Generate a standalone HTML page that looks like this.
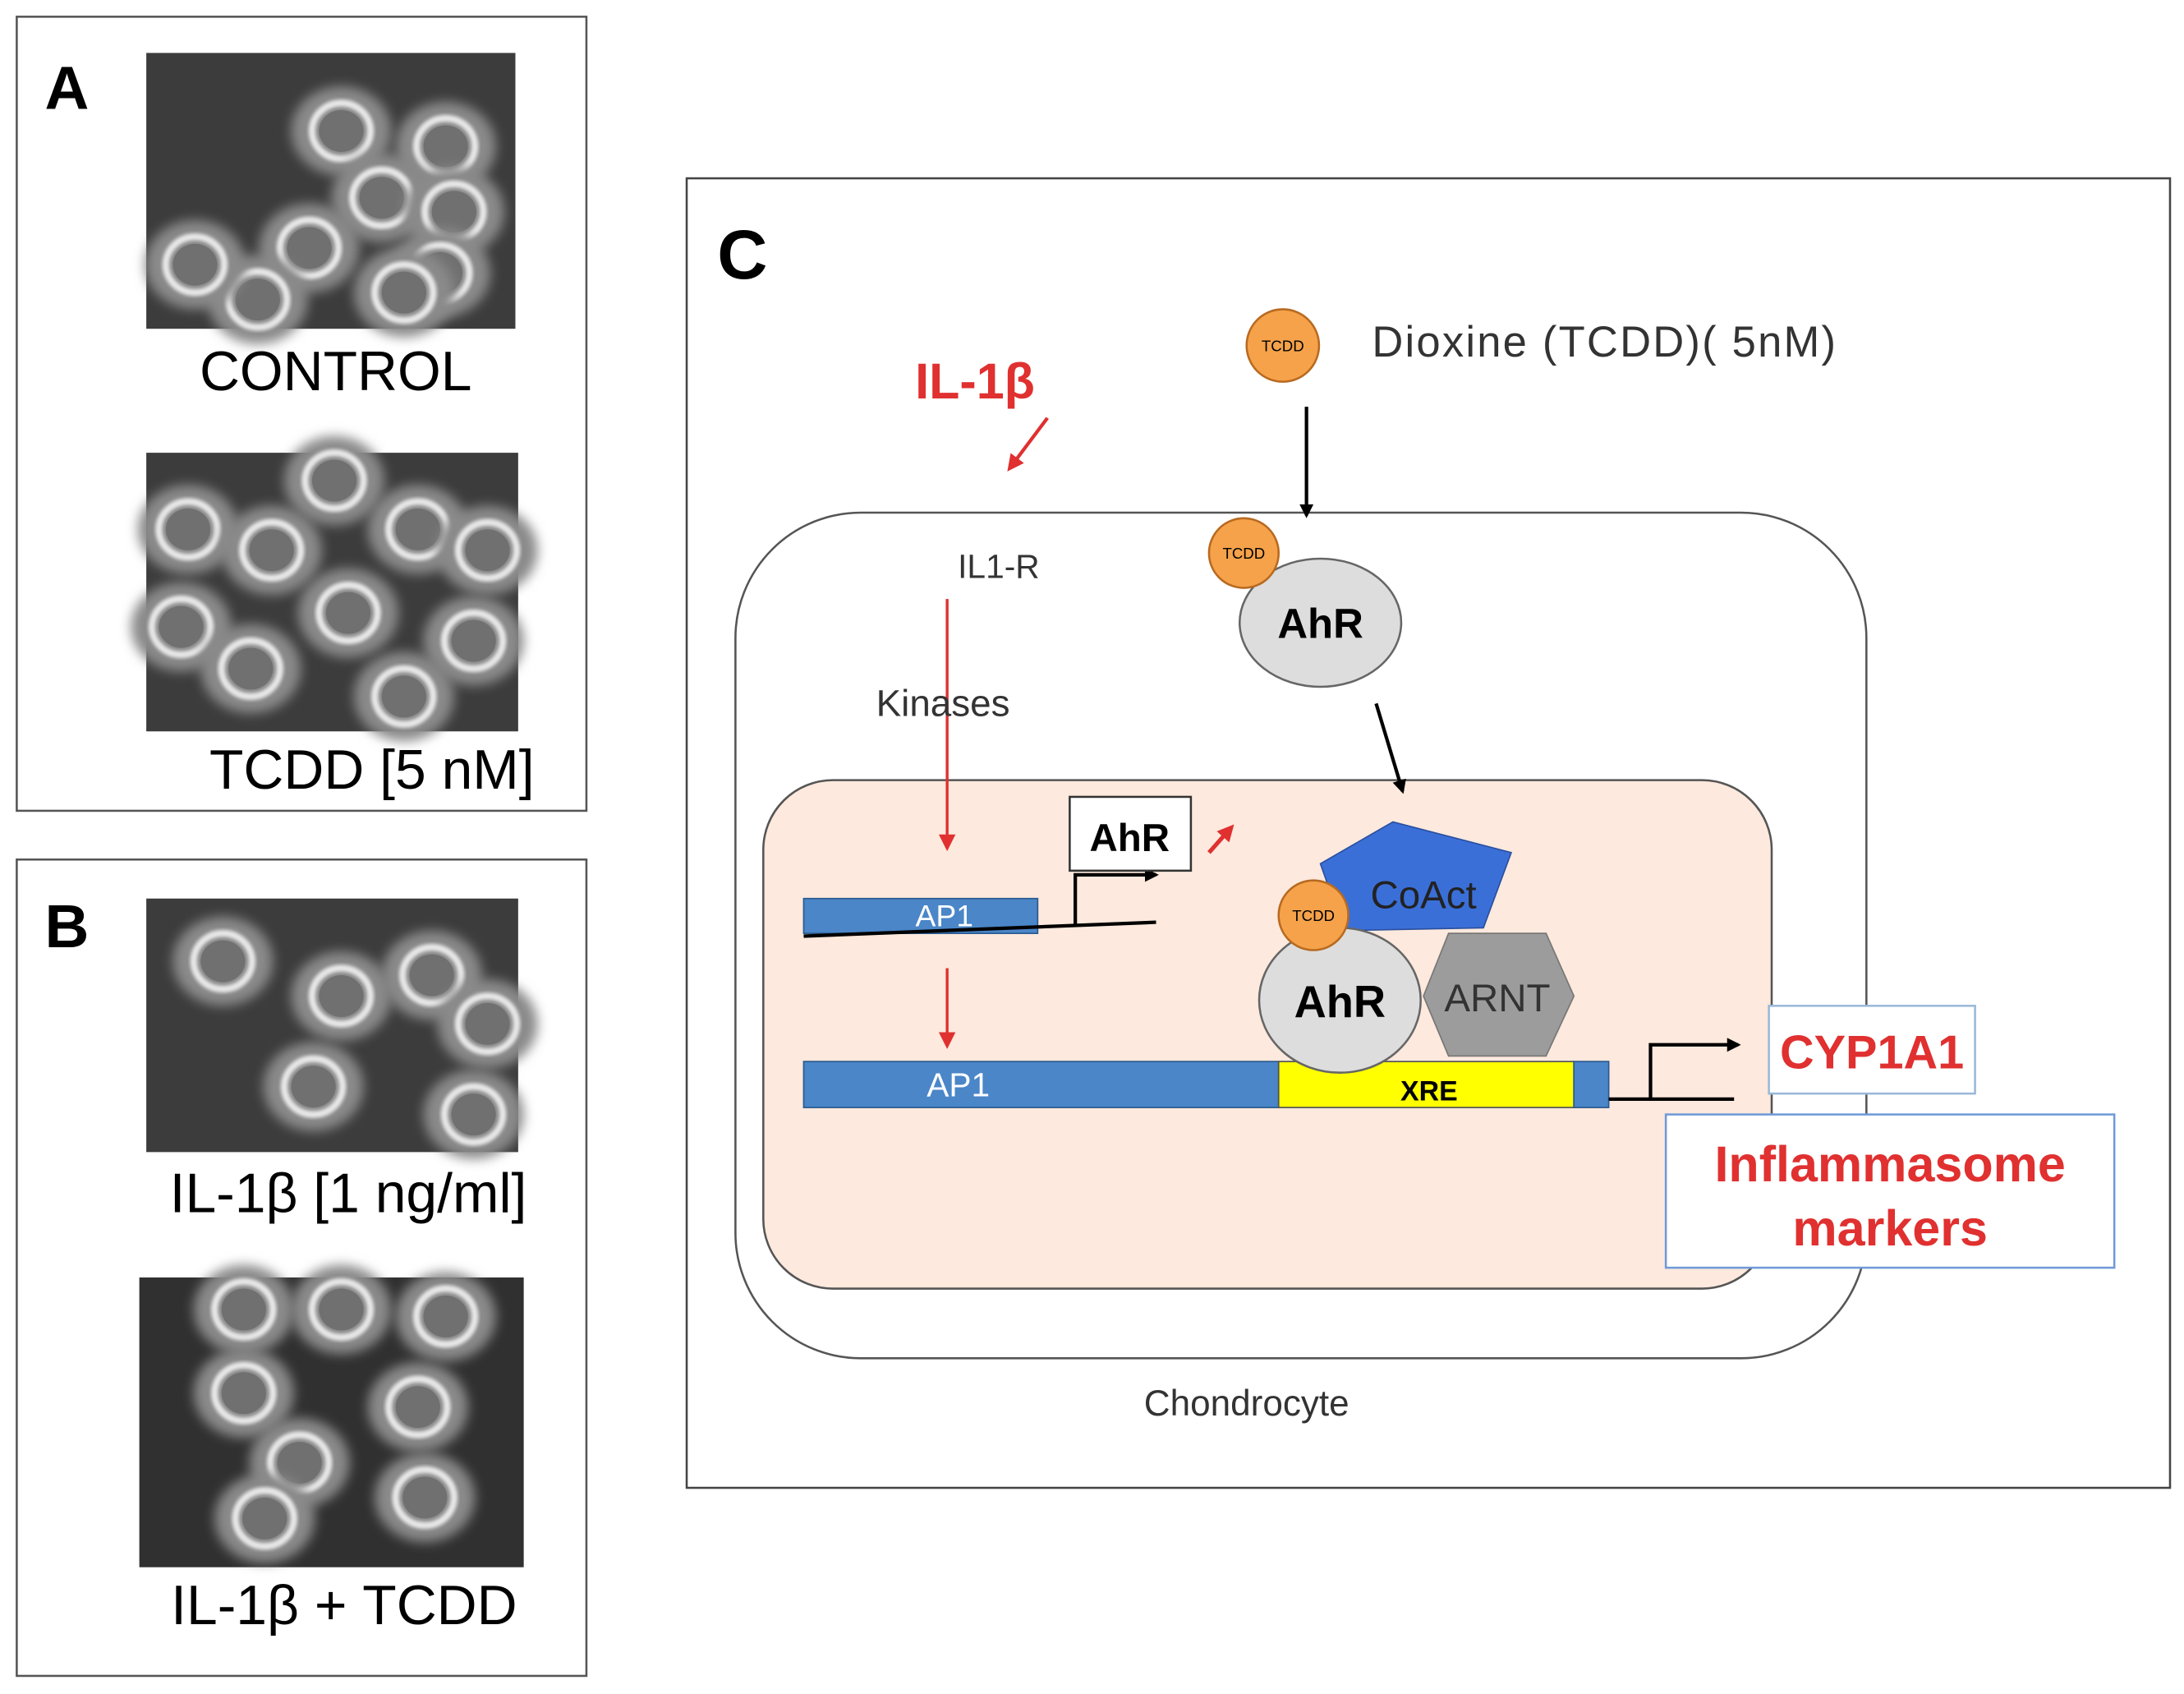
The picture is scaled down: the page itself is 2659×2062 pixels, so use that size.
<!DOCTYPE html>
<html><head><meta charset="utf-8"><style>html,body{margin:0;padding:0;background:#fff}svg{display:block}</style></head><body>
<svg width="2659" height="2062" viewBox="0 0 1568 1216" xmlns="http://www.w3.org/2000/svg" font-family="Liberation Sans, sans-serif">
<defs>
<filter id="bl" x="-20%" y="-20%" width="140%" height="140%"><feGaussianBlur stdDeviation="4"/></filter>
<filter id="bl2"><feGaussianBlur stdDeviation="1.2"/></filter>
<marker id="ak" markerWidth="10" markerHeight="10" refX="8" refY="5" orient="auto" markerUnits="userSpaceOnUse"><path d="M0,0 L10,5 L0,10 Z" fill="#000"/></marker>
<marker id="ar" markerWidth="12" markerHeight="12" refX="9" refY="6" orient="auto" markerUnits="userSpaceOnUse"><path d="M0,0 L12,6 L0,12 Z" fill="#e03030"/></marker>
<g id="cell"><ellipse rx="36" ry="32" fill="#8a8a8a" filter="url(#bl)"/><ellipse rx="21" ry="20" fill="none" stroke="#e8e8e8" stroke-width="5" filter="url(#bl2)"/><ellipse rx="16" ry="15" fill="#707070"/></g>
</defs>
<rect width="1568" height="1216" fill="#fff"/>
<!-- Panel A -->
<rect x="12" y="12" width="409" height="570" fill="#fff" stroke="#555" stroke-width="1.5"/>
<text x="48" y="78" font-size="44" font-weight="bold" text-anchor="middle">A</text>
<g><rect x="105" y="38" width="265" height="198" fill="#3c3c3c"/>
<use href="#cell" x="245" y="94"/><use href="#cell" x="320" y="105"/><use href="#cell" x="274" y="142"/><use href="#cell" x="326" y="152"/><use href="#cell" x="222" y="178"/><use href="#cell" x="316" y="196"/><use href="#cell" x="290" y="210"/><use href="#cell" x="185" y="215"/><use href="#cell" x="140" y="190"/></g>
<text x="241" y="280" font-size="40" text-anchor="middle">CONTROL</text>
<g><rect x="105" y="325" width="267" height="200" fill="#3c3c3c"/>
<use href="#cell" x="135" y="380"/><use href="#cell" x="240" y="345"/><use href="#cell" x="300" y="380"/><use href="#cell" x="350" y="395"/><use href="#cell" x="195" y="395"/><use href="#cell" x="130" y="450"/><use href="#cell" x="250" y="440"/><use href="#cell" x="340" y="460"/><use href="#cell" x="180" y="480"/><use href="#cell" x="290" y="500"/></g>
<text x="267" y="566" font-size="40" text-anchor="middle">TCDD [5 nM]</text>
<!-- Panel B -->
<rect x="12" y="617" width="409" height="586" fill="#fff" stroke="#555" stroke-width="1.5"/>
<text x="48" y="680" font-size="44" font-weight="bold" text-anchor="middle">B</text>
<g><rect x="105" y="645" width="267" height="182" fill="#3c3c3c"/>
<use href="#cell" x="160" y="690"/><use href="#cell" x="245" y="715"/><use href="#cell" x="310" y="700"/><use href="#cell" x="350" y="735"/><use href="#cell" x="225" y="780"/><use href="#cell" x="340" y="800"/></g>
<text x="250" y="870" font-size="40" text-anchor="middle">IL-1β [1 ng/ml]</text>
<g><rect x="100" y="917" width="276" height="208" fill="#303030"/>
<use href="#cell" x="175" y="940"/><use href="#cell" x="245" y="940"/><use href="#cell" x="320" y="945"/><use href="#cell" x="175" y="1000"/><use href="#cell" x="300" y="1010"/><use href="#cell" x="215" y="1050"/><use href="#cell" x="190" y="1090"/><use href="#cell" x="305" y="1075"/></g>
<text x="247" y="1166" font-size="40" text-anchor="middle">IL-1β + TCDD</text>
<!-- Panel C -->
<rect x="493" y="128" width="1065" height="940" fill="#fff" stroke="#444" stroke-width="1.5"/>
<text x="533" y="200" font-size="50" font-weight="bold" text-anchor="middle">C</text>
<rect x="528" y="368" width="812" height="607" rx="90" fill="#fff" stroke="#555" stroke-width="1.5"/>
<rect x="548" y="560" width="724" height="365" rx="50" fill="#fde9dd" stroke="#555" stroke-width="1.5"/>
<circle cx="921" cy="248" r="26" fill="#f5a24a" stroke="#b86a20" stroke-width="1.5"/>
<text x="921" y="252" font-size="11" text-anchor="middle">TCDD</text>
<text x="985" y="256" font-size="31" fill="#333" textLength="333">Dioxine (TCDD)( 5nM)</text>
<text x="700" y="286" font-size="36" font-weight="bold" fill="#e03030" text-anchor="middle">IL-1β</text>
<line x1="752" y1="300" x2="725" y2="336" stroke="#e03030" stroke-width="2.5" marker-end="url(#ar)"/>
<text x="717" y="415" font-size="24" fill="#333" text-anchor="middle">IL1-R</text>
<line x1="680" y1="430" x2="680" y2="608" stroke="#e03030" stroke-width="2" marker-end="url(#ar)"/>
<text x="677" y="514" font-size="27" fill="#333" text-anchor="middle">Kinases</text>
<line x1="938" y1="292" x2="938" y2="370" stroke="#000" stroke-width="2.5" marker-end="url(#ak)"/>
<ellipse cx="948" cy="447" rx="58" ry="46" fill="#ddd" stroke="#666" stroke-width="1.5"/>
<circle cx="893" cy="397" r="25" fill="#f5a24a" stroke="#b86a20" stroke-width="1.5"/>
<text x="893" y="401" font-size="11" text-anchor="middle">TCDD</text>
<text x="948" y="458" font-size="30" font-weight="bold" text-anchor="middle">AhR</text>
<line x1="988" y1="505" x2="1007" y2="568" stroke="#000" stroke-width="2.5" marker-end="url(#ak)"/>
<rect x="577" y="645" width="168" height="25" fill="#4a86c8" stroke="#2a5a90"/>
<text x="678" y="665" font-size="22" fill="#fff" text-anchor="middle">AP1</text>
<line x1="577" y1="672" x2="830" y2="662" stroke="#000" stroke-width="2.5"/>
<polyline points="772,664 772,628 830,628" fill="none" stroke="#000" stroke-width="2.5" marker-end="url(#ak)"/>
<rect x="768" y="572" width="87" height="53" fill="#fff" stroke="#333" stroke-width="1.5"/>
<text x="811" y="611" font-size="28" font-weight="bold" text-anchor="middle">AhR</text>
<line x1="868" y1="612" x2="884" y2="594" stroke="#e03030" stroke-width="3" marker-end="url(#ar)"/>
<line x1="680" y1="695" x2="680" y2="750" stroke="#e03030" stroke-width="2" marker-end="url(#ar)"/>
<rect x="577" y="762" width="341" height="33" fill="#4a86c8" stroke="#2a5a90"/>
<rect x="918" y="762" width="212" height="33" fill="#ffff00" stroke="#555"/>
<rect x="1130" y="762" width="25" height="33" fill="#4a86c8" stroke="#2a5a90"/>
<text x="688" y="787" font-size="24" fill="#fff" text-anchor="middle">AP1</text>
<text x="1026" y="790" font-size="20" font-weight="bold" text-anchor="middle">XRE</text>
<line x1="1155" y1="789" x2="1245" y2="789" stroke="#000" stroke-width="2.5"/>
<polyline points="1185,789 1185,750 1248,750" fill="none" stroke="#000" stroke-width="2.5" marker-end="url(#ak)"/>
<polygon points="1000,590 1085,612 1065,666 965,668 948,620" fill="#3b6fd8" stroke="#2a50a0"/>
<text x="1022" y="652" font-size="28" fill="#222" text-anchor="middle">CoAct</text>
<polygon points="1040,670 1110,670 1130,715 1110,758 1040,758 1022,715" fill="#9c9c9c" stroke="#777"/>
<text x="1075" y="726" font-size="28" fill="#333" text-anchor="middle">ARNT</text>
<ellipse cx="962" cy="718" rx="58" ry="52" fill="#ddd" stroke="#666" stroke-width="1.5"/>
<text x="962" y="730" font-size="32" font-weight="bold" text-anchor="middle">AhR</text>
<circle cx="943" cy="657" r="25" fill="#f5a24a" stroke="#b86a20" stroke-width="1.5"/>
<text x="943" y="661" font-size="11" text-anchor="middle">TCDD</text>
<rect x="1270" y="722" width="148" height="63" fill="#fff" stroke="#9ab8d8" stroke-width="1.5"/>
<text x="1344" y="767" font-size="34" font-weight="bold" fill="#e03030" text-anchor="middle">CYP1A1</text>
<rect x="1196" y="800" width="322" height="110" fill="#fff" stroke="#6f9ad8" stroke-width="1.5"/>
<text x="1357" y="848" font-size="36" font-weight="bold" fill="#e03030" text-anchor="middle">Inflammasome</text>
<text x="1357" y="894" font-size="36" font-weight="bold" fill="#e03030" text-anchor="middle">markers</text>
<text x="895" y="1016" font-size="26" fill="#333" text-anchor="middle">Chondrocyte</text>
</svg>
</body></html>
